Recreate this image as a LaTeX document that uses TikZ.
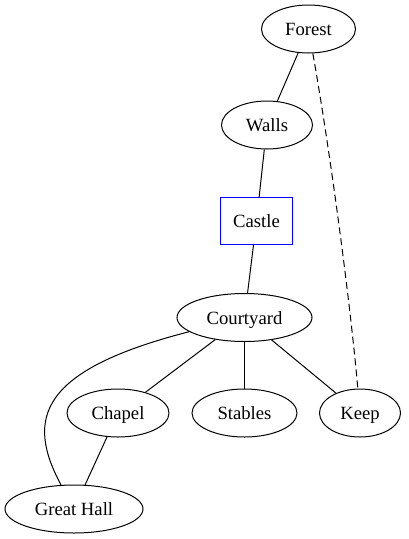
\documentclass[tikz,border=0pt]{standalone}
\usepackage{fontspec}
\setmainfont{Liberation Serif}
\usetikzlibrary{shapes.geometric}
\tikzset{
  lbl/.style={font=\fontsize{18.67}{22}\selectfont, text height=14.6pt, text depth=1.6pt},
  place/.style={ellipse, draw, line width=1pt, inner sep=0pt, minimum height=48pt, lbl},
  keybox/.style={rectangle, draw=blue, line width=1.2pt, inner sep=0pt, minimum width=72pt, minimum height=47pt, lbl},
  link/.style={line width=1pt},
  dlink/.style={line width=1pt, dash pattern=on 7pt off 4pt}
}
\begin{document}
\begin{tikzpicture}[x=1pt,y=-1pt]
\useasboundingbox (0,0) rectangle (409,539);
\node[place, minimum width=94pt] (forest) at (308.5,29) {Forest};
\node[place, minimum width=91pt] (walls) at (267,125) {Walls};
\node[keybox] (castle) at (256.5,221) {Castle};
\node[place, minimum width=135pt] (court) at (244.5,317.5) {Courtyard};
\node[place, minimum width=102pt] (chapel) at (118,413) {Chapel};
\node[place, minimum width=105pt] (stables) at (244.5,413) {Stables};
\node[place, minimum width=81pt] (keep) at (360,413) {Keep};
\node[place, minimum width=138pt] (hall) at (74,509) {Great Hall};
\draw[link] (forest) -- (walls);
\draw[link] (walls) -- (castle);
\draw[link] (castle) -- (court);
\draw[link] (court) -- (chapel);
\draw[link] (court) -- (stables);
\draw[link] (court) -- (keep);
\draw[link] (chapel) -- (hall);
\draw[link] (court) .. controls (40,370) and (25,418) .. (hall);
\draw[dlink] (forest) .. controls (330,150) and (350,300) .. (keep);
\end{tikzpicture}
\end{document}
